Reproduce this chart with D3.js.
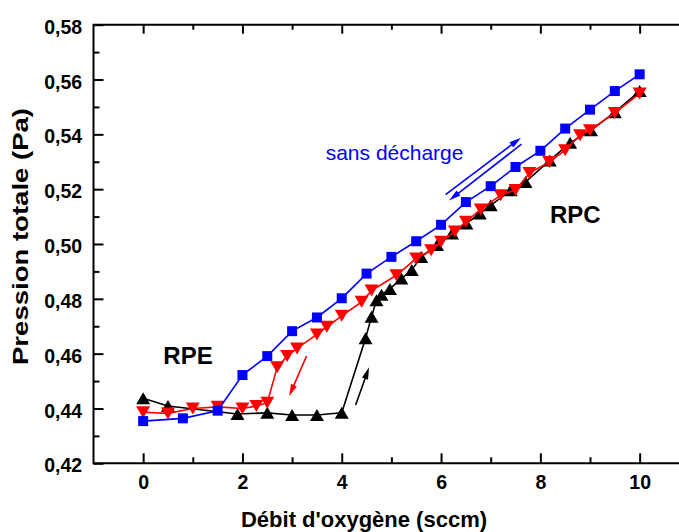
<!DOCTYPE html>
<html><head><meta charset="utf-8">
<script src="https://cdn.jsdelivr.net/npm/d3@7/dist/d3.min.js"></script>
<style>body{margin:0;background:#fff;} svg{display:block;font-family:Arial,"Liberation Sans",sans-serif;}</style>
</head><body><svg id="c" width="679" height="532"></svg>
<script>
// "sans décharge" (blue squares)
const blueX = [0, 0.8, 1.5, 2, 2.5, 3, 3.5, 4, 4.5, 5, 5.5, 6, 6.5, 7, 7.5, 8, 8.5, 9, 9.5, 10];
const blueY = [0.4354, 0.4364, 0.4392, 0.4522, 0.4591, 0.4682, 0.4732, 0.4802, 0.4892, 0.4953, 0.5010, 0.5070, 0.5153, 0.5211, 0.5281, 0.5340, 0.5421, 0.5490, 0.5558, 0.5619];
// decreasing flow (red down triangles)
const redX = [0, 0.5, 1.0, 1.5, 2.0, 2.28, 2.5, 2.7, 2.9, 3.1, 3.5, 3.7, 4.0, 4.4, 4.6, 5.1, 5.5, 5.8, 6.0, 6.28, 6.5, 6.8, 7.2, 7.5, 7.78, 8.18, 8.5, 8.8, 9.0, 9.5, 10];
const redY = [0.4386, 0.4382, 0.4400, 0.4406, 0.4400, 0.4409, 0.4421, 0.4550, 0.4591, 0.4619, 0.4670, 0.4698, 0.4738, 0.4789, 0.4830, 0.4886, 0.4947, 0.4977, 0.5008, 0.5046, 0.5081, 0.5126, 0.5178, 0.5197, 0.5259, 0.5299, 0.5342, 0.5397, 0.5415, 0.5478, 0.5549];
// increasing flow (black up triangles)
const blackX = [0, 0.5, 1.9, 2.5, 3.0, 3.5, 4.0, 4.48, 4.6, 4.7, 4.8, 4.97, 5.2, 5.41, 5.6, 5.92, 6.22, 6.51, 6.78, 7.0, 7.4, 7.7, 8.19, 8.6, 9.02, 9.5, 10];
const blackY = [0.4437, 0.4409, 0.4380, 0.4384, 0.4376, 0.4376, 0.4384, 0.4656, 0.4735, 0.4795, 0.4815, 0.4836, 0.4874, 0.4905, 0.4953, 0.4996, 0.5038, 0.5075, 0.5111, 0.5141, 0.5196, 0.5226, 0.5305, 0.5369, 0.5415, 0.5481, 0.5558];

const xTicks = [0, 2, 4, 6, 8, 10];
const xMinorTicks = [1, 3, 5, 7, 9];
const yTicks = [0.42, 0.44, 0.46, 0.48, 0.50, 0.52, 0.54, 0.56, 0.58];
const yMinorTicks = [0.43, 0.45, 0.47, 0.49, 0.51, 0.53, 0.55, 0.57];

// arrows: [x1, y1, x2, y2] in data coords (head at end)
const blueArrows = [[6.09, 0.5180, 7.61, 0.5388], [7.62, 0.5364, 6.16, 0.5159]];
const redArrows = [[3.29, 0.4591, 2.94, 0.4445]];
const blackArrows = [[4.28, 0.4413, 4.55, 0.4550]];

const svg = d3.select("#c");
const x = d3.scaleLinear().domain([-1, 11]).range([93.5, 689.3]);
const y = d3.scaleLinear().domain([0.42, 0.58]).range([463.3, 24.7]);
const fmt = d => d3.format(".2f")(d).replace(".", ",");
const X0 = x.range()[0], X1 = x.range()[1], Y0 = y.range()[0], Y1 = y.range()[1];

// axes
svg.append("g").attr("transform", `translate(0,${Y0})`)
  .call(d3.axisBottom(x).tickValues(xTicks).tickSize(-10).tickPadding(12.2).tickFormat(d3.format("d")));
svg.append("g").attr("transform", `translate(0,${Y0})`)
  .call(d3.axisBottom(x).tickValues(xMinorTicks).tickSize(-6).tickFormat(""));
svg.append("g").attr("transform", `translate(0,${Y1})`)
  .call(d3.axisTop(x).tickValues(xTicks).tickSize(-9).tickFormat(""));
svg.append("g").attr("transform", `translate(0,${Y1})`)
  .call(d3.axisTop(x).tickValues(xMinorTicks).tickSize(-5).tickFormat(""));
const gL = svg.append("g").attr("transform", `translate(${X0},0)`)
  .call(d3.axisLeft(y).tickValues(yTicks).tickSize(-10).tickPadding(11.3).tickFormat(fmt));
svg.append("g").attr("transform", `translate(${X0},0)`)
  .call(d3.axisLeft(y).tickValues(yMinorTicks).tickSize(-6).tickFormat(""));
svg.selectAll(".domain").remove();
svg.selectAll(".tick line").attr("stroke", "#000").attr("stroke-width", 2);
svg.selectAll(".tick text").attr("fill", "#000").attr("font-size", "19.5px").attr("font-weight", "bold")
  .attr("font-family", "Arial,'Liberation Sans',sans-serif");
gL.selectAll(".tick text").attr("dy", "0.44em");

// frame
svg.append("path").attr("d", `M${X1},${Y1}H${X0}V${Y0}H${X1}`)
  .attr("fill", "none").attr("stroke", "#000").attr("stroke-width", 2);

// titles
svg.append("text").attr("x", 364).attr("y", 527.3).attr("text-anchor", "middle")
  .attr("font-size", "22px").attr("font-weight", "bold").text("Débit d'oxygène (sccm)");
svg.append("text").attr("transform", "translate(28,236.5) rotate(-90)").attr("text-anchor", "middle")
  .attr("font-size", "22px").attr("font-weight", "bold")
  .attr("textLength", 257).attr("lengthAdjust", "spacingAndGlyphs").text("Pression totale (Pa)");

// series
function series(xs, ys, color, shape) {
  const pts = xs.map((v, i) => [x(v), y(ys[i])]);
  svg.append("path").attr("d", d3.line()(pts)).attr("fill", "none")
    .attr("stroke", color).attr("stroke-width", 1.6);
  const g = svg.append("g");
  pts.forEach(p => {
    let d;
    if (shape === "square") d = `M${p[0]-5},${p[1]-5}h10v10h-10Z`;
    else if (shape === "up") d = `M${p[0]},${p[1]-6}L${p[0]+7},${p[1]+6}L${p[0]-7},${p[1]+6}Z`;
    else d = `M${p[0]},${p[1]+6}L${p[0]+7},${p[1]-6}L${p[0]-7},${p[1]-6}Z`;
    g.append("path").attr("d", d).attr("fill", color);
  });
}
series(blackX, blackY, "#000", "up");
series(redX, redY, "#ff0000", "down");
series(blueX, blueY, "#0000ff", "square");

// arrows
function arrow(a, color) {
  const x1 = x(a[0]), y1 = y(a[1]), x2 = x(a[2]), y2 = y(a[3]);
  const ang = Math.atan2(y2 - y1, x2 - x1), L = 12, W = 3.2;
  const bx = x2 - L * Math.cos(ang), by = y2 - L * Math.sin(ang);
  svg.append("line").attr("x1", x1).attr("y1", y1).attr("x2", bx + 2 * Math.cos(ang)).attr("y2", by + 2 * Math.sin(ang))
    .attr("stroke", color).attr("stroke-width", 1.6);
  svg.append("path").attr("d", `M${x2},${y2}L${bx - W*Math.sin(ang)},${by + W*Math.cos(ang)}L${bx + W*Math.sin(ang)},${by - W*Math.cos(ang)}Z`)
    .attr("fill", color);
}
blueArrows.forEach(a => arrow(a, "#0000ff"));
redArrows.forEach(a => arrow(a, "#ff0000"));
blackArrows.forEach(a => arrow(a, "#000"));

// labels
svg.append("text").attr("x", 325.7).attr("y", 159.5).attr("font-size", "21px").attr("fill", "#0000ff").text("sans décharge");
svg.append("text").attr("x", 163.3).attr("y", 364).attr("font-size", "24px").attr("font-weight", "bold").text("RPE");
svg.append("text").attr("x", 550).attr("y", 222.7).attr("font-size", "24px").attr("font-weight", "bold").text("RPC");
</script></body></html>
